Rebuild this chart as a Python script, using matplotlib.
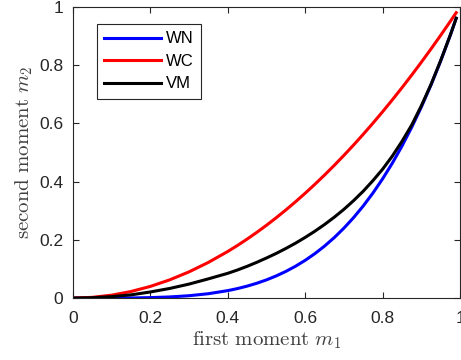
import numpy as np
import matplotlib
matplotlib.use('Agg')
from matplotlib import pyplot as plt

# first moment values (x) and the second moment read for each model
m1 = [0, 0.05, 0.1, 0.15, 0.2, 0.25, 0.3, 0.35, 0.4, 0.425, 0.45, 0.475, 0.5,
      0.525, 0.55, 0.575, 0.6, 0.625, 0.65, 0.675, 0.7, 0.725, 0.75, 0.775,
      0.8, 0.825, 0.85, 0.875, 0.9, 0.925, 0.95, 0.975, 0.99]
wn = [0, 0.00001, 0.0001, 0.0005, 0.0016, 0.0039, 0.0081, 0.015, 0.0256, 0.0326, 0.041, 0.0509, 0.0625,
      0.076, 0.0915, 0.1093, 0.1296, 0.1526, 0.1785, 0.2076, 0.2401, 0.2763, 0.3164, 0.3608,
      0.4096, 0.4632, 0.522, 0.5862, 0.6561, 0.7321, 0.8145, 0.9037, 0.9606]
wc = [0, 0.0025, 0.01, 0.0225, 0.04, 0.0625, 0.09, 0.1225, 0.16, 0.1806, 0.2025, 0.2256, 0.25,
      0.2756, 0.3025, 0.3306, 0.36, 0.3906, 0.4225, 0.4556, 0.49, 0.5256, 0.5625, 0.6006,
      0.64, 0.6806, 0.7225, 0.7656, 0.81, 0.8556, 0.9025, 0.9506, 0.98]
vm = [0, 0.0013, 0.005, 0.011, 0.021, 0.033, 0.048, 0.066, 0.085, 0.0964, 0.109, 0.1228, 0.1376,
      0.1532, 0.1703, 0.1885, 0.2083, 0.2296, 0.2526, 0.2776, 0.3047, 0.3346, 0.3671, 0.4034,
      0.4427, 0.4875, 0.5382, 0.594, 0.6604, 0.7338, 0.816, 0.904, 0.961]

series = [('WN', wn, '#0000ff'), ('WC', wc, '#ff0000'), ('VM', vm, '#000000')]
xticks = [0, 0.2, 0.4, 0.6, 0.8, 1]
yticks = [0, 0.2, 0.4, 0.6, 0.8, 1]
ticklabels = ['0', '0.2', '0.4', '0.6', '0.8', '1']

plt.rcParams['font.family'] = ['Liberation Sans', 'DejaVu Sans']
plt.rcParams['mathtext.fontset'] = 'cm'

fig = plt.figure(figsize=(4.61, 3.6), dpi=100)
ax = fig.add_axes([0.158, 0.172, 0.84, 0.809])

for name, vals, col in series:
    ax.plot(m1, vals, color=col, lw=2.2, label=name)

ax.set_xlim(0, 1)
ax.set_ylim(0, 1)
ax.set_xticks(xticks)
ax.set_yticks(yticks)
ax.set_xticklabels(ticklabels)
ax.set_yticklabels(ticklabels)
ax.tick_params(direction='in', length=4, width=0.8, colors='#262626',
               labelsize=12.5, top=True, right=True)
ax.tick_params(axis='x', pad=9)
ax.tick_params(axis='y', pad=7)
for s in ax.spines.values():
    s.set_color('#262626')
    s.set_linewidth(0.8)

ax.set_xlabel(r'$\mathrm{first\ moment}\ m_1$', fontsize=15, color='#404040', labelpad=3)
ax.set_ylabel(r'$\mathrm{second\ moment}\ m_2$', fontsize=15, color='#404040', labelpad=3)

leg = ax.legend(loc='upper left', bbox_to_anchor=(0.04, 0.97), fontsize=12,
                handlelength=3.4, handletextpad=0.3, borderpad=0.45,
                labelspacing=0.45, fancybox=False, framealpha=1)
leg.get_frame().set_edgecolor('#262626')
leg.get_frame().set_linewidth(0.8)

fig.savefig('out.png', dpi=100)
